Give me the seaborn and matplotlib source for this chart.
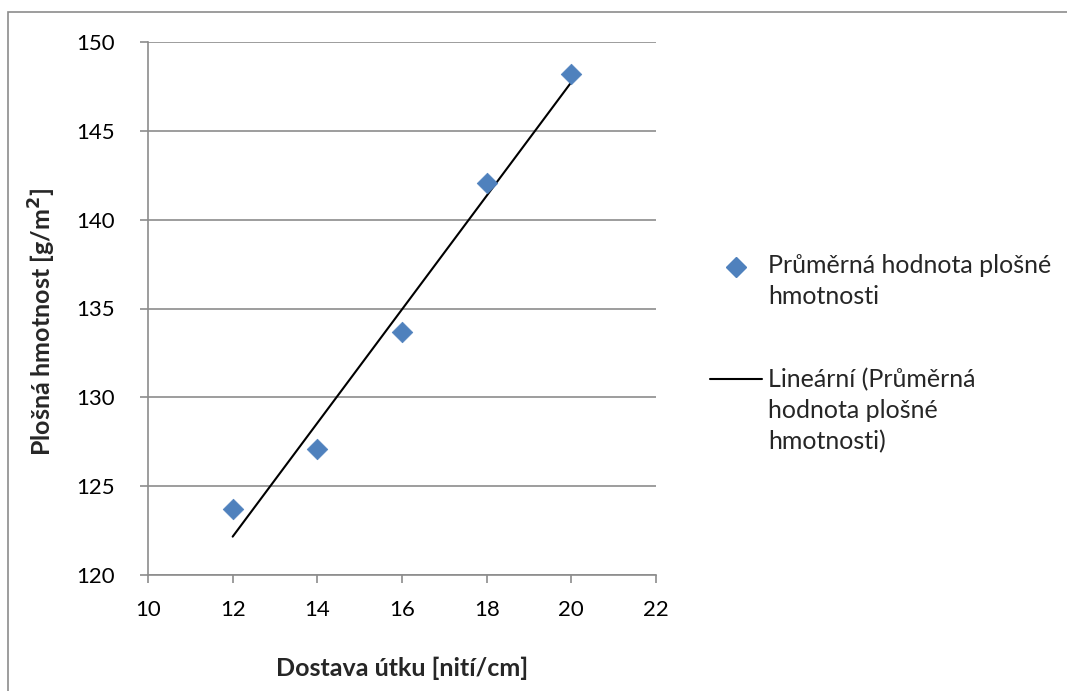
import matplotlib
matplotlib.use("Agg")
import matplotlib.pyplot as plt
import matplotlib.patches as mpatches
from matplotlib.lines import Line2D
import seaborn as sns
import numpy as np
import pandas as pd

dostava = [12, 14, 16, 18, 20]
hmotnost = [123.7, 127.1, 133.7, 142.05, 148.2]
x_ticks = [10, 12, 14, 16, 18, 20, 22]
y_ticks = [120, 125, 130, 135, 140, 145, 150]
label_points = "Průměrná hodnota plošné\nhmotnosti"
label_trend = "Lineární (Průměrná\nhodnota plošné\nhmotnosti)"

sns.set_theme(style="white")
plt.rcParams['font.family'] = ['Lato', 'DejaVu Sans']

df = pd.DataFrame({"x": dostava, "y": hmotnost})

W, H = 1067, 691
fig = plt.figure(figsize=(W / 100, H / 100), dpi=100)
ax = fig.add_axes([148 / W, 1 - 575 / H, (656 - 148) / W, (575 - 42) / H])

sns.regplot(data=df, x="x", y="y", ax=ax, scatter=False, ci=None,
            line_kws=dict(color="black", lw=1.5))
sns.scatterplot(data=df, x="x", y="y", ax=ax, marker="D", s=110,
                color="#4F81BD", edgecolor="#4F81BD", linewidth=0.5, zorder=5)

ax.set_xlim(10, 22)
ax.set_ylim(120, 150)
ax.set_xticks(x_ticks)
ax.set_yticks(y_ticks)
ax.yaxis.grid(True, color="#8C8C8C", lw=1.2)
ax.xaxis.grid(False)
for s in ["top", "right"]:
    ax.spines[s].set_visible(False)
for s in ["left", "bottom"]:
    ax.spines[s].set_color("#8C8C8C")
    ax.spines[s].set_linewidth(1.2)
ax.tick_params(axis="both", direction="out", length=6, width=1.2, color="#8C8C8C",
               labelsize=16, labelcolor="black", bottom=True, left=True)
ax.tick_params(axis="x", pad=12)
ax.tick_params(axis="y", pad=18)
ax.set_axisbelow(True)

ax.set_xlabel("Dostava útku [nití/cm]", fontsize=18, fontweight="bold", va="center")
ax.set_ylabel("Plošná hmotnost [g/m$^\\mathbf{2}$]", fontsize=18, fontweight="bold", va="center")
ax.xaxis.set_label_coords((402 - 148) / 508, (575 - 668) / 533)
ax.yaxis.set_label_coords((42 - 148) / 508, (575 - 322) / 533)

# legend drawn in figure pixel positions
def fx(px):
    return px / W

def fy(py):
    return 1 - py / H

fig.add_artist(Line2D([fx(736)], [fy(267)], marker="D", color="#4F81BD",
                      linestyle="None", markersize=10, transform=fig.transFigure))
fig.text(fx(768), fy(304), label_points, fontsize=18, va="baseline", ha="left",
         linespacing=1.4)
fig.add_artist(Line2D([fx(710), fx(762)], [fy(379), fy(379)], color="black", lw=1.5,
                      transform=fig.transFigure))
fig.text(fx(768), fy(449), label_trend, fontsize=18, va="baseline", ha="left",
         linespacing=1.4)

border = mpatches.Rectangle((8 / W, -0.1), 1.2, 1.1 - 12 / H, transform=fig.transFigure,
                            fill=False, edgecolor="#8C8C8C", lw=1.2)
fig.add_artist(border)

fig.savefig("out.png", dpi=100)
